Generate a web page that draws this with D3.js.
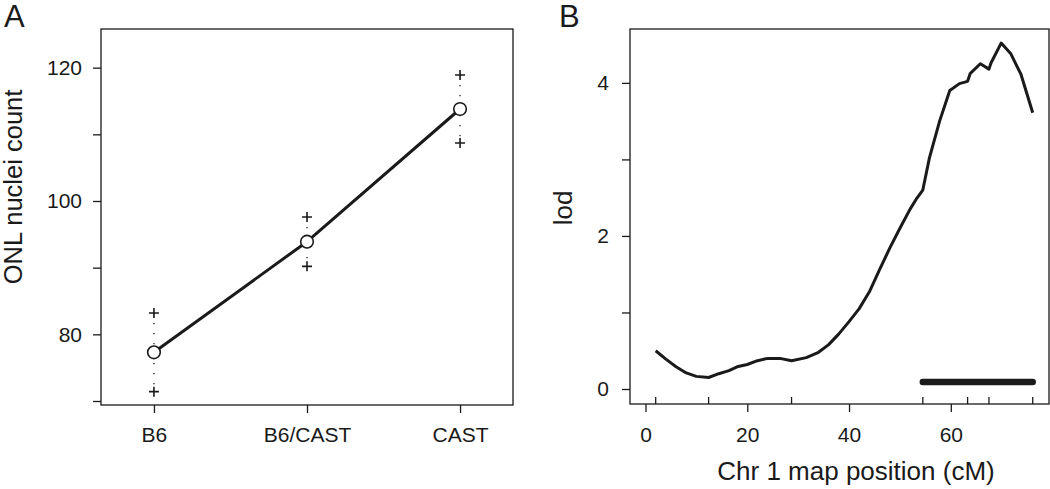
<!DOCTYPE html>
<html>
<head>
<meta charset="utf-8">
<script src="https://cdn.jsdelivr.net/npm/d3@7"></script>
<style>
  html, body { margin: 0; padding: 0; background: #fff; }
  svg { display: block; font-family: "Liberation Sans", Arial, Helvetica, sans-serif; }
</style>
</head>
<body>
<svg id="chart" width="1050" height="489"></svg>
<script>
// ---------- Data: panel A ----------
const genotypes = ["B6", "B6/CAST", "CAST"];
const meanCount = [77.3, 93.9, 113.8];
const upperCount = [83.2, 97.6, 118.9];
const lowerCount = [71.4, 90.2, 108.7];
const yTicksA = [70, 80, 90, 100, 110, 120];
const yLabelsA = [80, 100, 120];

// ---------- Data: panel B ----------
const positionCM = [2.0, 4.0, 6.0, 8.0, 10.0, 12.4, 14.4, 16.4, 18.0, 20.0, 22.0, 24.0, 26.4, 28.7, 31.6, 34.0, 36.0, 38.0, 40.0, 42.0, 44.0, 46.0, 48.0, 50.0, 52.0, 53.2, 54.5, 55.8, 57.8, 59.8, 61.7, 63.3, 63.8, 65.8, 67.5, 67.9, 69.9, 71.8, 73.8, 76.1];
const lodScore  = [0.50, 0.39, 0.29, 0.21, 0.165, 0.15, 0.20, 0.24, 0.29, 0.32, 0.37, 0.40, 0.40, 0.37, 0.41, 0.48, 0.58, 0.72, 0.88, 1.05, 1.27, 1.56, 1.84, 2.10, 2.35, 2.48, 2.60, 3.02, 3.50, 3.90, 3.99, 4.02, 4.12, 4.25, 4.18, 4.26, 4.52, 4.38, 4.11, 3.61];
const markerCM = [2.0, 12.4, 28.7, 54.5, 63.3, 67.5, 76.1];
const ciInterval = [54.5, 76.1];
const ciLod = [0.09];
const xTicksB = [0, 20, 40, 60];
const yTicksB = [0, 1, 2, 3, 4];
const yLabelsB = [0, 2, 4];

const ink = "#1a1a1a";
const svg = d3.select("#chart");

// ================= Panel A =================
const A = { left: 101, right: 513, top: 29, bottom: 405 };
const xA = d3.scalePoint().domain(genotypes).range([A.left, A.right]).padding(0.346);
const yA = d3.scaleLinear().domain([69.4, 125.8]).range([A.bottom, A.top]);

const gA = svg.append("g");

const yAxisA = gA.append("g")
  .attr("transform", `translate(${A.left},0)`)
  .call(d3.axisLeft(yA).tickValues(yTicksA).tickSize(8).tickPadding(11)
    .tickFormat(d => yLabelsA.includes(d) ? d : ""));
const xAxisA = gA.append("g")
  .attr("transform", `translate(0,${A.bottom})`)
  .call(d3.axisBottom(xA).tickSize(8).tickPadding(14));

[yAxisA, xAxisA].forEach(ax => {
  ax.select(".domain").remove();
  ax.selectAll(".tick line").attr("stroke", ink).attr("stroke-width", 1.3);
  ax.selectAll(".tick text").attr("fill", ink).style("font-size", "21px")
    .style("font-family", "'Liberation Sans', Arial, sans-serif");
});

gA.append("rect")
  .attr("x", A.left).attr("y", A.top)
  .attr("width", A.right - A.left).attr("height", A.bottom - A.top)
  .attr("fill", "none").attr("stroke", ink).attr("stroke-width", 1.3);

genotypes.forEach((g, i) => {
  gA.append("line")
    .attr("x1", xA(g)).attr("x2", xA(g))
    .attr("y1", yA(upperCount[i])).attr("y2", yA(lowerCount[i]))
    .attr("stroke", ink).attr("stroke-width", 1.3)
    .attr("stroke-dasharray", "1.3,8.7");
});

const lineA = d3.line().x((d, i) => xA(genotypes[i])).y(d => yA(d));
gA.append("path").datum(meanCount)
  .attr("d", lineA).attr("fill", "none").attr("stroke", ink)
  .attr("stroke-width", 3).attr("stroke-linejoin", "round");

const plusSize = 5;
genotypes.forEach((g, i) => {
  [upperCount[i], lowerCount[i]].forEach(v => {
    const cx = xA(g), cy = yA(v);
    gA.append("path")
      .attr("d", `M${cx - plusSize},${cy}H${cx + plusSize}M${cx},${cy - plusSize}V${cy + plusSize}`)
      .attr("stroke", ink).attr("stroke-width", 1.6).attr("fill", "none");
  });
});

gA.selectAll("circle.mean").data(meanCount).enter().append("circle")
  .attr("class", "mean")
  .attr("cx", (d, i) => xA(genotypes[i])).attr("cy", d => yA(d))
  .attr("r", 6.3).attr("fill", "#fff").attr("stroke", ink).attr("stroke-width", 1.6);

gA.append("text")
  .attr("transform", "translate(22,187) rotate(-90)")
  .attr("text-anchor", "middle").attr("fill", ink)
  .style("font-size", "25.5px").text("ONL nuclei count");
gA.append("text").attr("x", 4).attr("y", 27).attr("fill", ink)
  .style("font-size", "31px").text("A");

// ================= Panel B =================
const B = { left: 630, right: 1049, top: 29, bottom: 404 };
const xB = d3.scaleLinear().domain([-3.05, 79.3]).range([B.left, B.right]);
const yB = d3.scaleLinear().domain([-0.196, 4.704]).range([B.bottom, B.top]);

const gB = svg.append("g");

const yAxisB = gB.append("g")
  .attr("transform", `translate(${B.left},0)`)
  .call(d3.axisLeft(yB).tickValues(yTicksB).tickSize(8).tickPadding(13)
    .tickFormat(d => yLabelsB.includes(d) ? d : ""));
const xAxisB = gB.append("g")
  .attr("transform", `translate(0,${B.bottom})`)
  .call(d3.axisBottom(xB).tickValues(xTicksB).tickSize(8).tickPadding(15)
    .tickFormat(d3.format("d")));

[yAxisB, xAxisB].forEach(ax => {
  ax.select(".domain").remove();
  ax.selectAll(".tick line").attr("stroke", ink).attr("stroke-width", 1.3);
  ax.selectAll(".tick text").attr("fill", ink).style("font-size", "21px")
    .style("font-family", "'Liberation Sans', Arial, sans-serif");
});

gB.append("rect")
  .attr("x", B.left).attr("y", B.top)
  .attr("width", B.right - B.left).attr("height", B.bottom - B.top)
  .attr("fill", "none").attr("stroke", ink).attr("stroke-width", 1.3);

gB.selectAll("line.marker").data(markerCM).enter().append("line")
  .attr("class", "marker")
  .attr("x1", d => xB(d)).attr("x2", d => xB(d))
  .attr("y1", B.bottom).attr("y2", B.bottom - 7)
  .attr("stroke", ink).attr("stroke-width", 1.3);

const lineB = d3.line().x((d, i) => xB(positionCM[i])).y(d => yB(d));
gB.append("path").datum(lodScore)
  .attr("d", lineB).attr("fill", "none").attr("stroke", ink)
  .attr("stroke-width", 3).attr("stroke-linejoin", "round");

gB.append("line")
  .attr("x1", xB(ciInterval[0])).attr("x2", xB(ciInterval[1]))
  .attr("y1", yB(ciLod[0])).attr("y2", yB(ciLod[0]))
  .attr("stroke", ink).attr("stroke-width", 6.5).attr("stroke-linecap", "round");

gB.append("text")
  .attr("transform", "translate(572,208) rotate(-90)")
  .attr("text-anchor", "middle").attr("fill", ink)
  .style("font-size", "26px").text("lod");
gB.append("text")
  .attr("x", 856).attr("y", 480)
  .attr("text-anchor", "middle").attr("fill", ink)
  .style("font-size", "26px").text("Chr 1 map position (cM)");
gB.append("text").attr("x", 559).attr("y", 27).attr("fill", ink)
  .style("font-size", "31px").text("B");
</script>
</body>
</html>
